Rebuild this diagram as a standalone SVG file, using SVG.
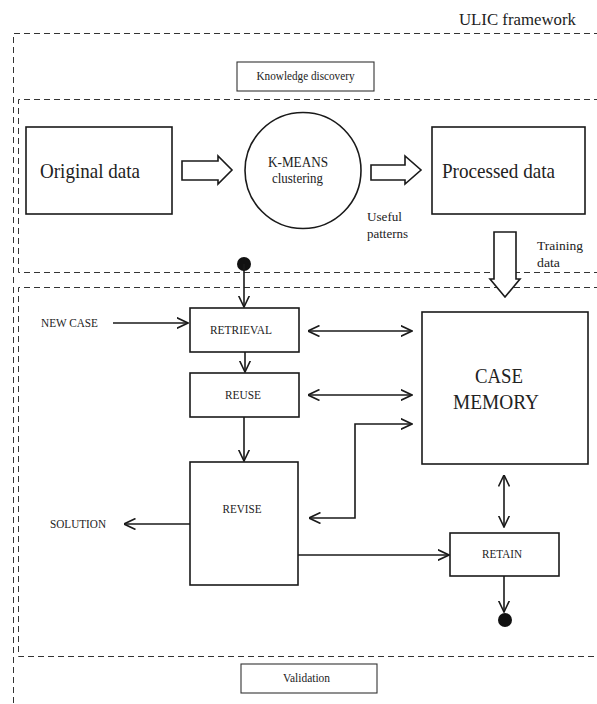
<svg xmlns="http://www.w3.org/2000/svg" width="597" height="704" viewBox="0 0 597 704">
  <style>
    .t { font-family: "Liberation Serif", "Times New Roman", serif; fill: #222; }
    .box { fill: #fff; stroke: #1a1a1a; stroke-width: 1.6; }
    .thin { fill: #fff; stroke: #333; stroke-width: 1.1; }
    .dash { fill: none; stroke: #333; stroke-width: 1; stroke-dasharray: 6 4; }
    .ln { fill: none; stroke: #1a1a1a; stroke-width: 1.6; }
    .hollow { fill: #fff; stroke: #1a1a1a; stroke-width: 1.6; stroke-linejoin: miter; }
  </style>
  <defs>
    <marker id="v" viewBox="0 0 12 12" refX="11.5" refY="6" markerWidth="12" markerHeight="12" markerUnits="userSpaceOnUse" orient="auto-start-reverse">
      <path d="M0,0.5 L11.5,6 L0,11.5" fill="none" stroke="#1a1a1a" stroke-width="1.6"/>
    </marker>
  </defs>

  <rect width="597" height="704" fill="#fff"/>

  <!-- frames -->
  <g id="frames">
    <text class="t" x="459" y="25" font-size="17" textLength="117" lengthAdjust="spacingAndGlyphs">ULIC framework</text>
    <path class="dash" d="M600,33.5 H13.5 V704"/>
    <path class="dash" d="M600,99.5 H18.5 V272.5 H600"/>
    <path class="dash" d="M600,287.5 H18.5 V656.5 H600"/>
  </g>

  <g id="knowledge-discovery">
    <rect class="thin" x="237" y="62" width="137" height="29"/>
    <text class="t" x="305.5" y="80" font-size="11.5" text-anchor="middle" textLength="98" lengthAdjust="spacingAndGlyphs">Knowledge discovery</text>
  </g>

  <g id="validation">
    <rect class="thin" x="241" y="664" width="136" height="29"/>
    <text class="t" x="306.5" y="682" font-size="11.5" text-anchor="middle" textLength="47" lengthAdjust="spacingAndGlyphs">Validation</text>
  </g>

  <!-- knowledge discovery stage -->
  <g id="original-data">
    <rect class="box" x="26" y="127" width="146" height="87"/>
    <text class="t" x="40" y="178" font-size="21" textLength="100" lengthAdjust="spacingAndGlyphs">Original data</text>
  </g>

  <g id="kmeans">
    <circle class="box" cx="303" cy="170.5" r="58"/>
    <text class="t" x="298" y="167" font-size="14.5" text-anchor="middle" textLength="60" lengthAdjust="spacingAndGlyphs">K-MEANS</text>
    <text class="t" x="297.5" y="183" font-size="14.5" text-anchor="middle" textLength="51" lengthAdjust="spacingAndGlyphs">clustering</text>
  </g>

  <g id="processed-data">
    <rect class="box" x="432" y="127" width="153" height="87"/>
    <text class="t" x="442" y="178" font-size="21" textLength="113" lengthAdjust="spacingAndGlyphs">Processed data</text>
  </g>

  <!-- case-based reasoning cycle -->
  <g id="retrieval">
    <rect class="box" x="190" y="308" width="109" height="44"/>
    <text class="t" x="241" y="334" font-size="11.5" text-anchor="middle" textLength="62" lengthAdjust="spacingAndGlyphs">RETRIEVAL</text>
  </g>

  <g id="reuse">
    <rect class="box" x="190" y="373" width="109" height="44"/>
    <text class="t" x="243" y="399" font-size="11.5" text-anchor="middle" textLength="36" lengthAdjust="spacingAndGlyphs">REUSE</text>
  </g>

  <g id="revise">
    <rect class="box" x="190" y="462" width="108" height="123"/>
    <text class="t" x="242" y="513" font-size="11.5" text-anchor="middle" textLength="39" lengthAdjust="spacingAndGlyphs">REVISE</text>
  </g>

  <g id="case-memory">
    <rect class="box" x="422" y="312" width="166" height="152"/>
    <text class="t" x="499" y="383" font-size="21" text-anchor="middle" textLength="48" lengthAdjust="spacingAndGlyphs">CASE</text>
    <text class="t" x="496" y="409" font-size="21" text-anchor="middle" textLength="86" lengthAdjust="spacingAndGlyphs">MEMORY</text>
  </g>

  <g id="retain">
    <rect class="box" x="450" y="533" width="109" height="43"/>
    <text class="t" x="502" y="558" font-size="11.5" text-anchor="middle" textLength="40" lengthAdjust="spacingAndGlyphs">RETAIN</text>
  </g>

  <g id="labels">
    <text class="t" x="367" y="221" font-size="13.5" textLength="35" lengthAdjust="spacingAndGlyphs">Useful</text>
    <text class="t" x="367" y="238" font-size="13.5" textLength="41" lengthAdjust="spacingAndGlyphs">patterns</text>
    <text class="t" x="537" y="250" font-size="13.5" textLength="46" lengthAdjust="spacingAndGlyphs">Training</text>
    <text class="t" x="537" y="267" font-size="13.5" textLength="23" lengthAdjust="spacingAndGlyphs">data</text>
    <text class="t" x="41" y="327" font-size="11.5" textLength="57" lengthAdjust="spacingAndGlyphs">NEW CASE</text>
    <text class="t" x="50" y="528" font-size="11.5" textLength="56" lengthAdjust="spacingAndGlyphs">SOLUTION</text>
  </g>

  <!-- connectors -->
  <g id="connectors">
    <!-- block arrows -->
    <path class="hollow" d="M182,161 H218 V156 L232,170 L218,184 V180 H182 Z"/>
    <path class="hollow" d="M371,165 H405 V156 L421,170 L405,184 V180 H371 Z"/>
    <path class="hollow" d="M494,232 H516 V279 H520 L505,297 L490,279 H494 Z"/>

    <!-- entry point -->
    <circle cx="244" cy="264" r="7" fill="#111"/>
    <line class="ln" x1="244" y1="264" x2="244" y2="307" marker-end="url(#v)"/>

    <line class="ln" x1="113" y1="323" x2="188" y2="323" marker-end="url(#v)"/>
    <line class="ln" x1="245" y1="352" x2="245" y2="372" marker-end="url(#v)"/>
    <line class="ln" x1="244" y1="417" x2="244" y2="461" marker-end="url(#v)"/>

    <line class="ln" x1="308" y1="331" x2="412" y2="331" marker-start="url(#v)" marker-end="url(#v)"/>
    <line class="ln" x1="308" y1="395" x2="412" y2="395" marker-start="url(#v)" marker-end="url(#v)"/>
    <path class="ln" d="M309,518 H355 V424 H412" marker-start="url(#v)" marker-end="url(#v)"/>

    <line class="ln" x1="190" y1="524" x2="124" y2="524" marker-end="url(#v)"/>
    <line class="ln" x1="298" y1="555" x2="449" y2="555" marker-end="url(#v)"/>

    <line class="ln" x1="504" y1="475" x2="504" y2="527" marker-start="url(#v)" marker-end="url(#v)"/>

    <line class="ln" x1="504" y1="576" x2="504" y2="612" marker-end="url(#v)"/>
    <circle cx="505" cy="620" r="7" fill="#111"/>
  </g>
</svg>
